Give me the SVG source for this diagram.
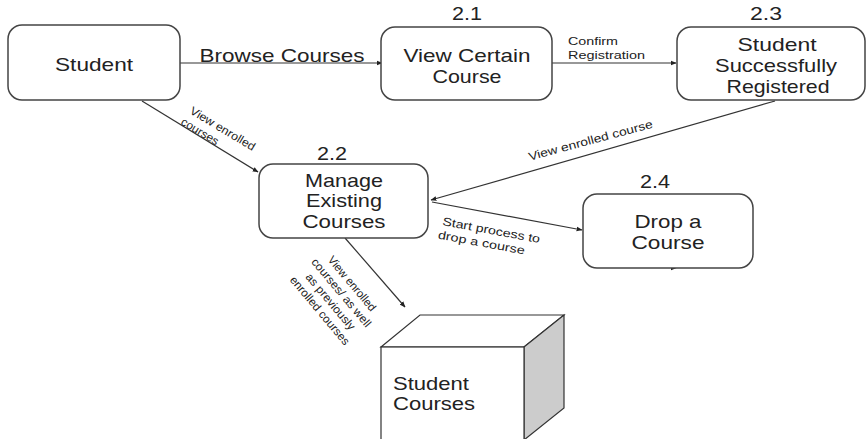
<svg xmlns="http://www.w3.org/2000/svg" width="867" height="439" viewBox="0 0 867 439">
  <style>
    .box { fill: #ffffff; stroke: #444444; stroke-width: 1.5; }
    .t { font-family: "Liberation Sans", Arial, sans-serif; fill: #222222; }
    .big { font-size: 19px; text-anchor: middle; }
    .num { font-size: 19px; text-anchor: middle; }
    .lbl { font-size: 11.5px; }
    .edge { stroke: #333333; stroke-width: 1.2; fill: none; marker-end: url(#arrow); }
  </style>
  <defs>
    <marker id="arrow" viewBox="0 0 10 10" refX="9" refY="5" markerWidth="6" markerHeight="6" orient="auto" markerUnits="userSpaceOnUse">
      <path d="M0,1 L10,5 L0,9 z" fill="#222222"/>
    </marker>
  </defs>
  <rect width="867" height="439" fill="#ffffff"/>

  <g id="connectors">
    <line class="edge" x1="180" y1="63" x2="382" y2="63"/>
    <text class="t big" x="282" y="62" textLength="165" lengthAdjust="spacingAndGlyphs">Browse Courses</text>

    <line class="edge" x1="552" y1="63" x2="676" y2="63"/>
    <text class="t lbl" x="568" y="45" textLength="50" lengthAdjust="spacingAndGlyphs">Confirm</text>
    <text class="t lbl" x="568" y="59" textLength="77" lengthAdjust="spacingAndGlyphs">Registration</text>

    <line class="edge" x1="142" y1="101" x2="258" y2="172"/>
    <g transform="translate(189,113) rotate(31)">
      <text class="t lbl" x="0" y="0" textLength="74" lengthAdjust="spacingAndGlyphs">View enrolled</text>
    </g>
    <g transform="translate(180,124) rotate(31)">
      <text class="t lbl" x="0" y="0" textLength="42" lengthAdjust="spacingAndGlyphs">courses</text>
    </g>

    <line class="edge" x1="775" y1="101" x2="431" y2="200"/>
    <g transform="translate(592,146) rotate(-15)">
      <text class="t lbl" x="0" y="-2" text-anchor="middle" textLength="128" lengthAdjust="spacingAndGlyphs">View enrolled course</text>
    </g>

    <line class="edge" x1="432" y1="202" x2="582" y2="230"/>
    <g transform="translate(442,225) rotate(10.5)">
      <text class="t lbl" x="0" y="0" textLength="99" lengthAdjust="spacingAndGlyphs">Start process to</text>
      <text class="t lbl" x="-2" y="14" textLength="88" lengthAdjust="spacingAndGlyphs">drop a course</text>
    </g>

    <line class="edge" x1="345" y1="238" x2="405" y2="307"/>
    <g transform="translate(336,297) rotate(50)">
      <text class="t lbl" x="0" y="-17" text-anchor="middle" textLength="68" lengthAdjust="spacingAndGlyphs">View enrolled</text>
      <text class="t lbl" x="0" y="-3" text-anchor="middle" textLength="86" lengthAdjust="spacingAndGlyphs">courses/ as well</text>
      <text class="t lbl" x="0" y="11" text-anchor="middle" textLength="70" lengthAdjust="spacingAndGlyphs">as previously</text>
      <text class="t lbl" x="0" y="25" text-anchor="middle" textLength="86" lengthAdjust="spacingAndGlyphs">enrolled courses</text>
    </g>

    <!-- small arrowhead sitting on the bottom edge of 2.4 -->
    <line x1="660" y1="268" x2="676" y2="268" stroke="none" marker-end="url(#arrow)"/>
  </g>

  <g id="student">
    <rect class="box" x="8" y="25" width="172" height="75" rx="14"/>
    <text class="t big" x="94" y="71" textLength="78" lengthAdjust="spacingAndGlyphs">Student</text>
  </g>

  <g id="p2-1">
    <text class="t num" x="467" y="20" textLength="30" lengthAdjust="spacingAndGlyphs">2.1</text>
    <rect class="box" x="381" y="27" width="171" height="73" rx="14"/>
    <text class="t big" x="467" y="62" textLength="127" lengthAdjust="spacingAndGlyphs">View Certain</text>
    <text class="t big" x="467" y="83" textLength="69" lengthAdjust="spacingAndGlyphs">Course</text>
  </g>

  <g id="p2-3">
    <text class="t num" x="766" y="20" textLength="32" lengthAdjust="spacingAndGlyphs">2.3</text>
    <rect class="box" x="677" y="27" width="188" height="73" rx="14"/>
    <text class="t big" x="777" y="51" textLength="79" lengthAdjust="spacingAndGlyphs">Student</text>
    <text class="t big" x="776" y="72" textLength="122" lengthAdjust="spacingAndGlyphs">Successfully</text>
    <text class="t big" x="778" y="93" textLength="103" lengthAdjust="spacingAndGlyphs">Registered</text>
  </g>

  <g id="p2-2">
    <text class="t num" x="332" y="160" textLength="30" lengthAdjust="spacingAndGlyphs">2.2</text>
    <rect class="box" x="259" y="164" width="169" height="74" rx="14"/>
    <text class="t big" x="344" y="187" textLength="78" lengthAdjust="spacingAndGlyphs">Manage</text>
    <text class="t big" x="344" y="207" textLength="76" lengthAdjust="spacingAndGlyphs">Existing</text>
    <text class="t big" x="344" y="228" textLength="83" lengthAdjust="spacingAndGlyphs">Courses</text>
  </g>

  <g id="p2-4">
    <text class="t num" x="655" y="188" textLength="30" lengthAdjust="spacingAndGlyphs">2.4</text>
    <rect class="box" x="583" y="194" width="170" height="74" rx="14"/>
    <text class="t big" x="668" y="228" textLength="67" lengthAdjust="spacingAndGlyphs">Drop a</text>
    <text class="t big" x="668" y="249" textLength="73" lengthAdjust="spacingAndGlyphs">Course</text>
  </g>

  <g id="student-courses">
    <polygon points="381,347 420,315 564,315 524,347" fill="#ffffff" stroke="#333333" stroke-width="1.2"/>
    <polygon points="524,347 564,315 564,408 524,440" fill="#cccccc" stroke="#333333" stroke-width="1.2"/>
    <rect x="381" y="347" width="143" height="100" fill="#ffffff" stroke="#333333" stroke-width="1.2"/>
    <text class="t" x="393" y="390" font-size="19" textLength="76" lengthAdjust="spacingAndGlyphs">Student</text>
    <text class="t" x="393" y="410" font-size="19" textLength="82" lengthAdjust="spacingAndGlyphs">Courses</text>
  </g>
</svg>
